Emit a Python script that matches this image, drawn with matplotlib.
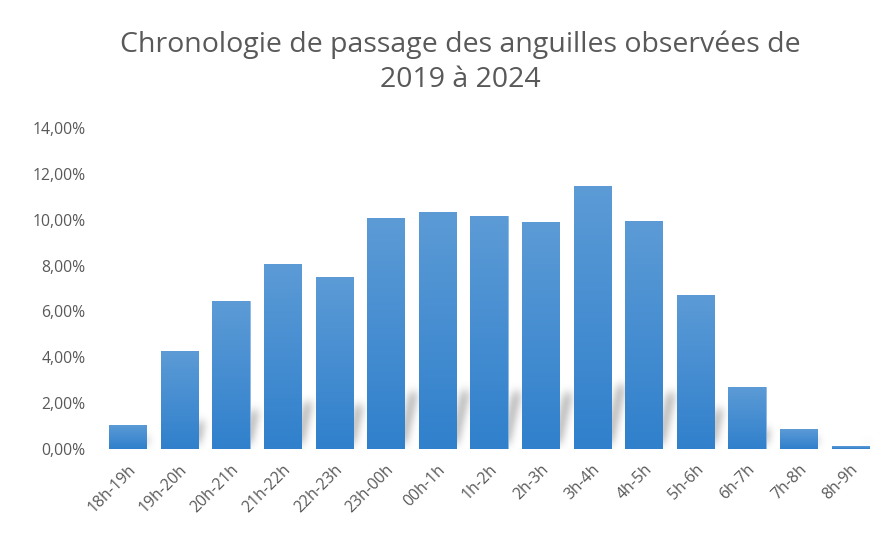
import numpy as np
import matplotlib.pyplot as plt
from matplotlib.colors import LinearSegmentedColormap
from matplotlib.ticker import FuncFormatter

plt.rcParams["font.family"] = ["Open Sans", "DejaVu Sans"]

creneaux = ["18h-19h", "19h-20h", "20h-21h", "21h-22h", "22h-23h", "23h-00h",
            "00h-1h", "1h-2h", "2h-3h", "3h-4h", "4h-5h", "5h-6h",
            "6h-7h", "7h-8h", "8h-9h"]
pourcentages = [1.05, 4.27, 6.45, 8.07, 7.50, 10.07, 10.34, 10.16,
                9.90, 11.47, 9.94, 6.72, 2.70, 0.87, 0.13]

gris = "#595959"
fig = plt.figure(figsize=(8.87, 5.35), dpi=100)
ax = fig.add_axes([0.115, 0.1607, 0.8726, 0.6])

x = np.arange(len(creneaux))
largeur = 0.72

# perspective shadow: a thin skewed band behind the right edge of each bar, blurred
gx = np.linspace(-0.5, len(creneaux) - 0.5, 1500)
gy = np.linspace(0, 4, 400)
GX, GY = np.meshgrid(gx, gy)
ombre = np.zeros_like(GX)
y0, k, skew, bande = 0.25, 0.22, 0.10, 0.18
for xi, h in zip(x, pourcentages):
    hs = k * h
    dec = skew * (GY - y0)
    bord = xi + largeur / 2 + 0.05 + dec
    m = (GY >= y0) & (GY <= y0 + hs) & (GX >= bord - bande) & (GX <= bord)
    ombre = np.maximum(ombre, m.astype(float))


def flou(a, sigma, axis):
    r = int(3 * sigma) + 1
    t = np.arange(-r, r + 1)
    g = np.exp(-0.5 * (t / sigma) ** 2)
    g /= g.sum()
    return np.apply_along_axis(lambda v: np.convolve(v, g, mode="same"), axis, a)


ombre = flou(ombre, 7, 1)
ombre = flou(ombre, 20, 0)
rgba = np.zeros(ombre.shape + (4,))
rgba[..., :3] = 0.35
rgba[..., 3] = np.clip(0.42 * ombre, 0, 1)
ax.imshow(rgba, extent=[gx[0], gx[-1], gy[0], gy[-1]], origin="lower",
          aspect="auto", zorder=1, interpolation="bilinear")

# bars with a vertical gradient fill
bleu = LinearSegmentedColormap.from_list("bleu", ["#3080cc", "#5c9bd6"])
barres = ax.bar(x, pourcentages, width=largeur, color="#4a8ed2",
                edgecolor="#8bb8e6", linewidth=0.6, zorder=2)
grad = np.linspace(0, 1, 256).reshape(-1, 1)
for b, h in zip(barres, pourcentages):
    im = ax.imshow(grad, extent=[b.get_x(), b.get_x() + b.get_width(), 0, h],
                   origin="lower", aspect="auto", cmap=bleu, zorder=3)
    im.set_clip_path(b)

ax.set_xlim(-0.5, len(creneaux) - 0.5)
ax.set_ylim(0, 14)
ax.set_yticks(np.arange(0, 15, 2))
ax.yaxis.set_major_formatter(FuncFormatter(lambda v, p: f"{v:.2f}%".replace(".", ",")))
ax.set_xticks(x)
ax.set_xticklabels(creneaux, rotation=45, ha="right", rotation_mode="anchor")

for s in ax.spines.values():
    s.set_visible(False)
ax.tick_params(axis="both", length=0, colors=gris, labelsize=11.3)
ax.tick_params(axis="y", pad=12)
ax.tick_params(axis="x", pad=9)

fig.text(0.519, 0.883, "Chronologie de passage des anguilles observées de\n2019 à 2024",
         ha="center", va="center", fontsize=20.5, color=gris, linespacing=1.34)

fig.savefig("out.png", dpi=100, facecolor="white")
